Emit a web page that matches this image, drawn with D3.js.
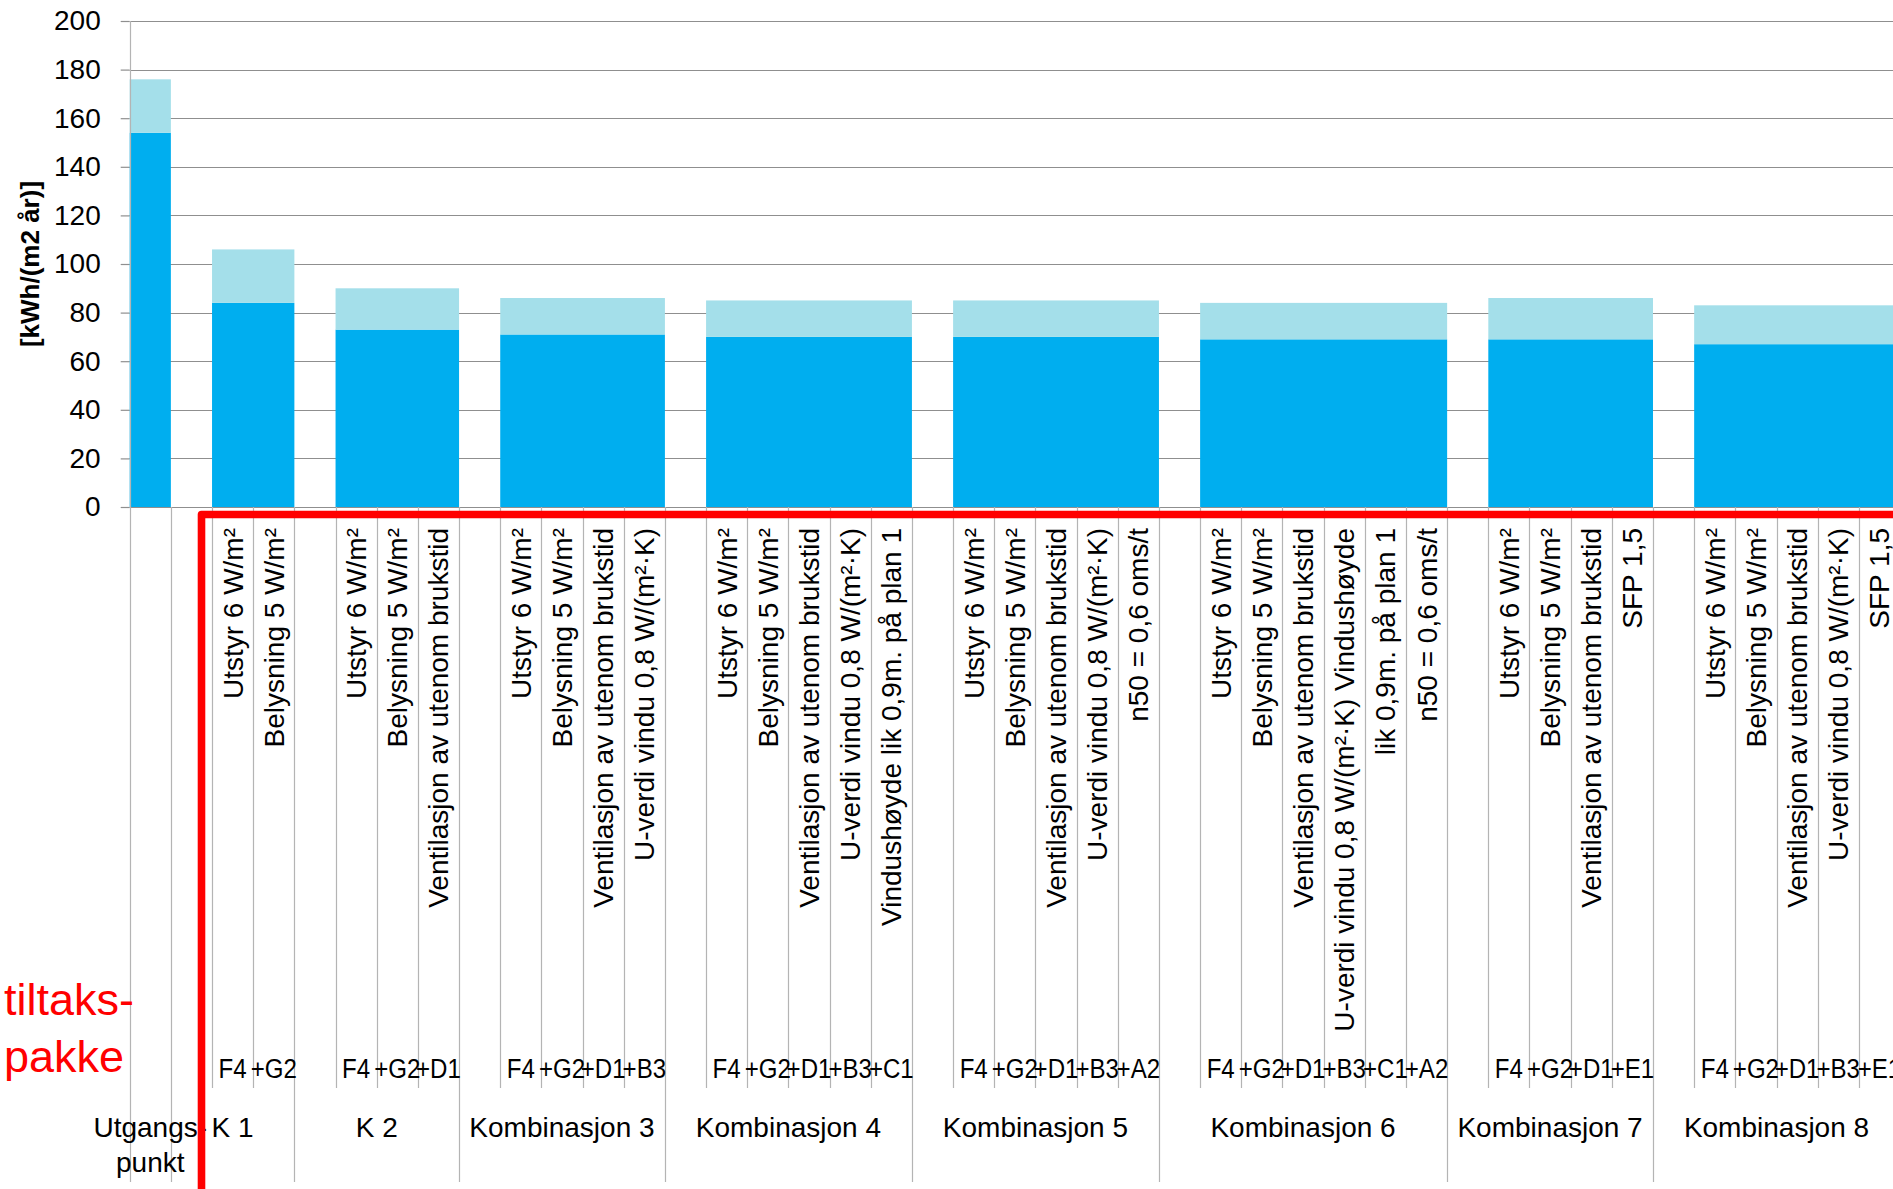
<!DOCTYPE html>
<html>
<head>
<meta charset="utf-8">
<script src="https://cdn.jsdelivr.net/npm/d3@7"></script>
<style>
  body { margin: 0; padding: 0; background: #fff; }
  text { font-family: "Liberation Sans", Arial, sans-serif; fill: #000; }
</style>
</head>
<body>
<script>
// top level categories (combinations)
const groupNames = [["Utgangs-", "punkt"], ["K 1"], ["K 2"], ["Kombinasjon 3"], ["Kombinasjon 4"],
  ["Kombinasjon 5"], ["Kombinasjon 6"], ["Kombinasjon 7"], ["Kombinasjon 8"]];

// measure labels (rotated, one per bar slot)
const measureLabels = [
  [""],
  ["Utstyr 6 W/m²", "Belysning 5 W/m²"],
  ["Utstyr 6 W/m²", "Belysning 5 W/m²", "Ventilasjon av utenom brukstid"],
  ["Utstyr 6 W/m²", "Belysning 5 W/m²", "Ventilasjon av utenom brukstid", "U-verdi vindu 0,8 W/(m²·K)"],
  ["Utstyr 6 W/m²", "Belysning 5 W/m²", "Ventilasjon av utenom brukstid", "U-verdi vindu 0,8 W/(m²·K)", "Vindushøyde lik 0,9m. på plan 1"],
  ["Utstyr 6 W/m²", "Belysning 5 W/m²", "Ventilasjon av utenom brukstid", "U-verdi vindu 0,8 W/(m²·K)", "n50 = 0,6 oms/t"],
  ["Utstyr 6 W/m²", "Belysning 5 W/m²", "Ventilasjon av utenom brukstid", "U-verdi vindu 0,8 W/(m²·K) Vindushøyde", "lik 0,9m. på plan 1", "n50 = 0,6 oms/t"],
  ["Utstyr 6 W/m²", "Belysning 5 W/m²", "Ventilasjon av utenom brukstid", "SFP 1,5"],
  ["Utstyr 6 W/m²", "Belysning 5 W/m²", "Ventilasjon av utenom brukstid", "U-verdi vindu 0,8 W/(m²·K)", "SFP 1,5"]
];

// measure codes (middle level)
const codeLabels = [
  [""],
  ["F4", "+G2"],
  ["F4", "+G2", "+D1"],
  ["F4", "+G2", "+D1", "+B3"],
  ["F4", "+G2", "+D1", "+B3", "+C1"],
  ["F4", "+G2", "+D1", "+B3", "+A2"],
  ["F4", "+G2", "+D1", "+B3", "+C1", "+A2"],
  ["F4", "+G2", "+D1", "+E1"],
  ["F4", "+G2", "+D1", "+B3", "+E1"]
];

// kWh/(m2 år): lower (dark) part and upper (light) part of each stack
const lowerValues = [154, 84, 73, 71, 70, 70, 69, 69, 67];
const upperValues = [22, 22, 17, 15, 15, 15, 15, 17, 16];

const yTicks = [0, 20, 40, 60, 80, 100, 120, 140, 160, 180, 200];

const W = 1893, H = 1189;
const darkBlue = "#00aeef", lightBlue = "#a4dfea";

// build leaf slots: every group except the first starts with an empty slot
const slots = [];
groupNames.forEach((g, gi) => {
  if (gi > 0) slots.push({ group: gi, bar: false, label: "", code: "" });
  measureLabels[gi].forEach((lab, li) => {
    slots.push({ group: gi, bar: true, label: lab, code: codeLabels[gi][li] });
  });
});
slots.forEach((s, i) => s.i = i);

const x0 = 129.7, slotW = 41.17;
const x = d3.scaleBand()
  .domain(slots.map(s => s.i))
  .range([x0, x0 + slots.length * slotW])
  .padding(0);

const y = d3.scaleLinear().domain([0, 200]).range([507, 21]);

const svg = d3.select("body").append("svg")
  .attr("width", W)
  .attr("height", H);

// gridlines
svg.append("g")
  .selectAll("line")
  .data(yTicks)
  .join("line")
  .attr("x1", x0)
  .attr("x2", W)
  .attr("y1", d => Math.round(y(d)) + 0.5)
  .attr("y2", d => Math.round(y(d)) + 0.5)
  .attr("stroke", "#8f8f8f")
  .attr("stroke-width", 1.2);

// y axis ticks + labels
const yAxis = svg.append("g")
  .attr("transform", `translate(${x0},0)`)
  .call(d3.axisLeft(y).tickValues(yTicks).tickSize(9).tickPadding(20));
yAxis.select(".domain").remove();
yAxis.selectAll(".tick line").attr("stroke", "#8f8f8f").attr("stroke-width", 1.2);
yAxis.selectAll(".tick text")
  .attr("font-size", 28)
  .attr("font-family", "Liberation Sans, Arial, sans-serif")
  .attr("fill", "#000");

// bars: gap width 0, so the bar slots of one group join into one block
const groupBars = groupNames.map((g, gi) => {
  const bs = slots.filter(s => s.group === gi && s.bar);
  return { gi, x1: x(bs[0].i), x2: x(bs[bs.length - 1].i) + x.bandwidth() };
});

svg.append("g")
  .selectAll("rect")
  .data(groupBars)
  .join("rect")
  .attr("x", d => d.x1)
  .attr("width", d => d.x2 - d.x1)
  .attr("y", d => y(lowerValues[d.gi]))
  .attr("height", d => y(0) - y(lowerValues[d.gi]))
  .attr("fill", darkBlue);

svg.append("g")
  .selectAll("rect")
  .data(groupBars)
  .join("rect")
  .attr("x", d => d.x1)
  .attr("width", d => d.x2 - d.x1)
  .attr("y", d => y(lowerValues[d.gi] + upperValues[d.gi]))
  .attr("height", d => y(lowerValues[d.gi]) - y(lowerValues[d.gi] + upperValues[d.gi]))
  .attr("fill", lightBlue);

// category separator lines
const groupStart = new Set(slots.filter((s, i) => i === 0 || slots[i - 1].group !== s.group).map(s => s.i));
const boundaries = d3.range(slots.length + 1);
svg.append("g")
  .selectAll("line")
  .data(boundaries)
  .join("line")
  .attr("x1", d => Math.round(x0 + d * slotW) + 0.5)
  .attr("x2", d => Math.round(x0 + d * slotW) + 0.5)
  .attr("y1", d => d === 0 ? y(200) : y(0))
  .attr("y2", d => (groupStart.has(d) || d === slots.length) ? 1182 : 1088)
  .attr("stroke", "#b4b4b4")
  .attr("stroke-width", 1.2);

// rotated measure labels
svg.append("g")
  .selectAll("text")
  .data(slots.filter(s => s.label))
  .join("text")
  .attr("transform", d => `translate(${x(d.i) + x.bandwidth() / 2 + 10},528) rotate(-90)`)
  .attr("text-anchor", "end")
  .attr("font-size", 28)
  .text(d => d.label);

// code labels (narrow face in the original, so squeeze horizontally)
svg.append("g")
  .selectAll("text")
  .data(slots.filter(s => s.code))
  .join("text")
  .attr("transform", d => `translate(${x(d.i) + x.bandwidth() / 2},1078) scale(0.86,1)`)
  .attr("text-anchor", "middle")
  .attr("font-size", 28)
  .text(d => d.code);

// group labels
const groupLabel = svg.append("g")
  .selectAll("text")
  .data(groupNames.map((g, gi) => {
    const ss = slots.filter(s => s.group === gi);
    return { lines: g, cx: (x(ss[0].i) + x(ss[ss.length - 1].i) + x.bandwidth()) / 2 };
  }))
  .join("text")
  .attr("x", d => d.cx)
  .attr("y", 1137)
  .attr("text-anchor", "middle")
  .attr("font-size", 28);
groupLabel.selectAll("tspan")
  .data(d => d.lines.map(l => ({ l, cx: d.cx })))
  .join("tspan")
  .attr("x", d => d.cx)
  .attr("dy", (d, i) => i === 0 ? 0 : 35)
  .text(d => d.l);

// y axis title
svg.append("text")
  .attr("transform", "translate(39,264) rotate(-90)")
  .attr("text-anchor", "middle")
  .attr("font-size", 26)
  .attr("font-weight", "bold")
  .text("[kWh/(m2 år)]");

// red "tiltakspakke" marker
svg.append("path")
  .attr("d", `M${W + 10},514.5 H201.5 V${H + 10}`)
  .attr("fill", "none")
  .attr("stroke", "#ff0000")
  .attr("stroke-width", 7.6)
  .attr("stroke-linejoin", "round");

const red = svg.append("text")
  .attr("x", 4)
  .attr("y", 1015)
  .attr("font-size", 45)
  .style("fill", "#ff0000");
red.append("tspan").attr("x", 4).text("tiltaks-");
red.append("tspan").attr("x", 4).attr("dy", 57).text("pakke");
</script>
</body>
</html>
